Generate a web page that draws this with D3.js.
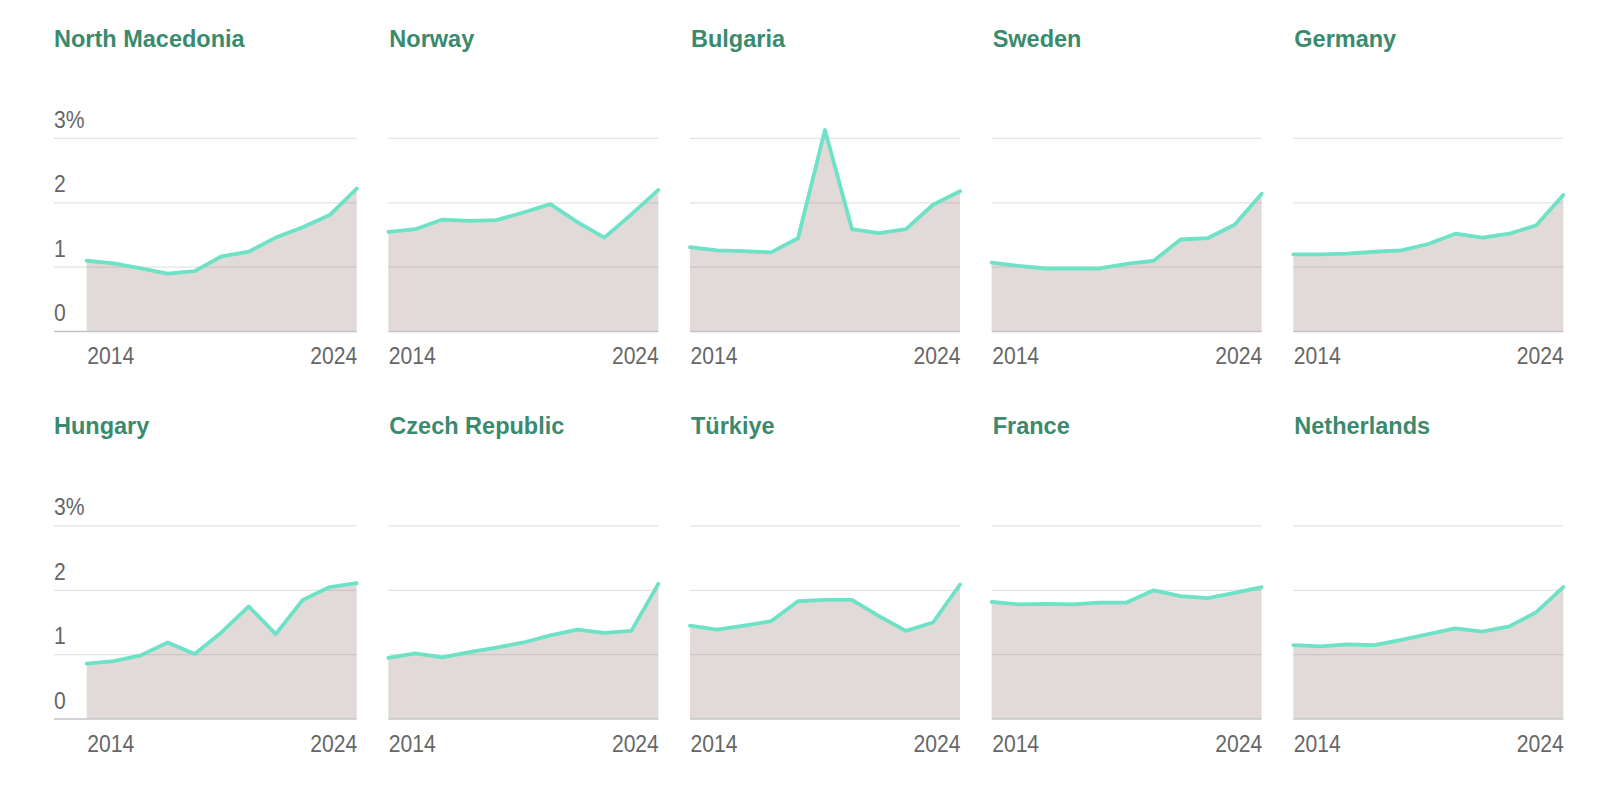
<!DOCTYPE html>
<html>
<head>
<meta charset="utf-8">
<script src="https://cdn.jsdelivr.net/npm/d3@7"></script>
<style>
  html, body { margin: 0; padding: 0; background: #ffffff; }
  svg { display: block; }
  .title { font-family: "Liberation Sans", Arial, sans-serif; font-weight: 700; fill: #3a8a6e; }
  .lbl { font-family: "Liberation Sans", Arial, sans-serif; fill: #666666; }
</style>
</head>
<body>
<svg id="chart" width="1600" height="794"></svg>
<script>
// ---- data ----
const years = [2014, 2015, 2016, 2017, 2018, 2019, 2020, 2021, 2022, 2023, 2024];
const countries = ["North Macedonia", "Norway", "Bulgaria", "Sweden", "Germany",
                   "Hungary", "Czech Republic", "Türkiye", "France", "Netherlands"];
const northMacedonia = [1.10, 1.06, 0.98, 0.90, 0.94, 1.17, 1.24, 1.46, 1.62, 1.81, 2.22];
const norway         = [1.55, 1.59, 1.74, 1.72, 1.73, 1.85, 1.98, 1.70, 1.46, 1.82, 2.20];
const bulgaria       = [1.31, 1.26, 1.25, 1.23, 1.45, 3.13, 1.59, 1.53, 1.59, 1.97, 2.18];
const sweden         = [1.07, 1.02, 0.98, 0.98, 0.98, 1.05, 1.10, 1.43, 1.45, 1.66, 2.14];
const germany        = [1.20, 1.20, 1.21, 1.24, 1.26, 1.36, 1.52, 1.46, 1.52, 1.65, 2.12];
const hungary        = [0.86, 0.90, 0.99, 1.19, 1.01, 1.35, 1.75, 1.32, 1.85, 2.05, 2.11];
const czechRepublic  = [0.95, 1.02, 0.96, 1.04, 1.11, 1.19, 1.30, 1.39, 1.34, 1.37, 2.10];
const turkiye        = [1.45, 1.39, 1.45, 1.52, 1.83, 1.85, 1.85, 1.60, 1.37, 1.50, 2.09];
const france         = [1.82, 1.78, 1.79, 1.78, 1.81, 1.81, 2.00, 1.91, 1.88, 1.96, 2.05];
const netherlands    = [1.15, 1.13, 1.16, 1.15, 1.23, 1.32, 1.41, 1.36, 1.44, 1.66, 2.05];
const seriesValues = [northMacedonia, norway, bulgaria, sweden, germany,
                      hungary, czechRepublic, turkiye, france, netherlands];
const yTicks = [0, 1, 2, 3];
const xTickYears = [2014, 2024];

// ---- layout ----
const svg = d3.select("#chart");
const plotW = 270;
const colStep = 301.65;
const firstPlotX = 86.7;
const rowStep = 387.5;
const yZero = 331.6, yTop = 138.4;
const labelLeft = 54;
const squeeze = 0.88;

const x = d3.scaleLinear().domain([2014, 2024]).range([0, plotW]);

seriesValues.forEach((vals, i) => {
  const col = i % 5, row = Math.floor(i / 5);
  const px = firstPlotX + col * colStep;
  const dy = row * rowStep;
  const y = d3.scaleLinear().domain([0, 3]).range([yZero + dy, yTop + dy]);
  const g = svg.append("g").attr("transform", `translate(${px},0)`);
  const gridLeft = col === 0 ? labelLeft - px : 0;

  // title
  g.append("text").attr("class", "title")
    .attr("x", col === 0 ? labelLeft - px : 1)
    .attr("y", 46.7 + dy)
    .attr("font-size", "23.5px")
    .text(countries[i]);

  // gridlines
  g.selectAll(".grid").data(yTicks.filter(d => d > 0)).join("line")
    .attr("x1", gridLeft).attr("x2", plotW)
    .attr("y1", d => y(d)).attr("y2", d => y(d))
    .attr("stroke", "#e3e3e3").attr("stroke-width", 1.2);

  // y labels (first column)
  if (col === 0) {
    g.selectAll(".ylab").data(yTicks).join("g")
      .attr("transform", d => `translate(${labelLeft - px},${y(d) - 10.5}) scale(${squeeze},1)`)
      .append("text").attr("class", "lbl")
      .attr("font-size", "24px")
      .text(d => d === 3 ? d + "%" : d);
  }

  const pts = years.map((yr, k) => [yr, vals[k]]);
  // area
  g.append("path")
    .attr("d", d3.area().x(d => x(d[0])).y0(y(0)).y1(d => y(d[1]))(pts))
    .attr("fill", "rgb(160,132,128)").attr("fill-opacity", 0.3);

  // baseline
  g.append("line").attr("x1", gridLeft).attr("x2", plotW)
    .attr("y1", y(0)).attr("y2", y(0))
    .attr("stroke", "#c4c4c4").attr("stroke-width", 1.5);

  // line
  g.append("path")
    .attr("d", d3.line().x(d => x(d[0])).y(d => y(d[1]))(pts))
    .attr("fill", "none").attr("stroke", "#6de2c6")
    .attr("stroke-width", 3.8).attr("stroke-linejoin", "round").attr("stroke-linecap", "round");

  // x axis labels
  const ax = g.append("g").attr("transform", `translate(0,${y(0)})`)
    .call(d3.axisBottom(x).tickValues(xTickYears).tickSize(0).tickPadding(0).tickFormat(d3.format("d")));
  ax.select(".domain").remove();
  ax.selectAll("text").attr("class", "lbl")
    .attr("font-size", "24px")
    .attr("dy", null)
    .attr("y", 32.5)
    .attr("transform", `scale(${squeeze},1)`)
    .attr("text-anchor", d => d === 2014 ? "start" : "end")
    .attr("fill", null);
});
</script>
</body>
</html>
